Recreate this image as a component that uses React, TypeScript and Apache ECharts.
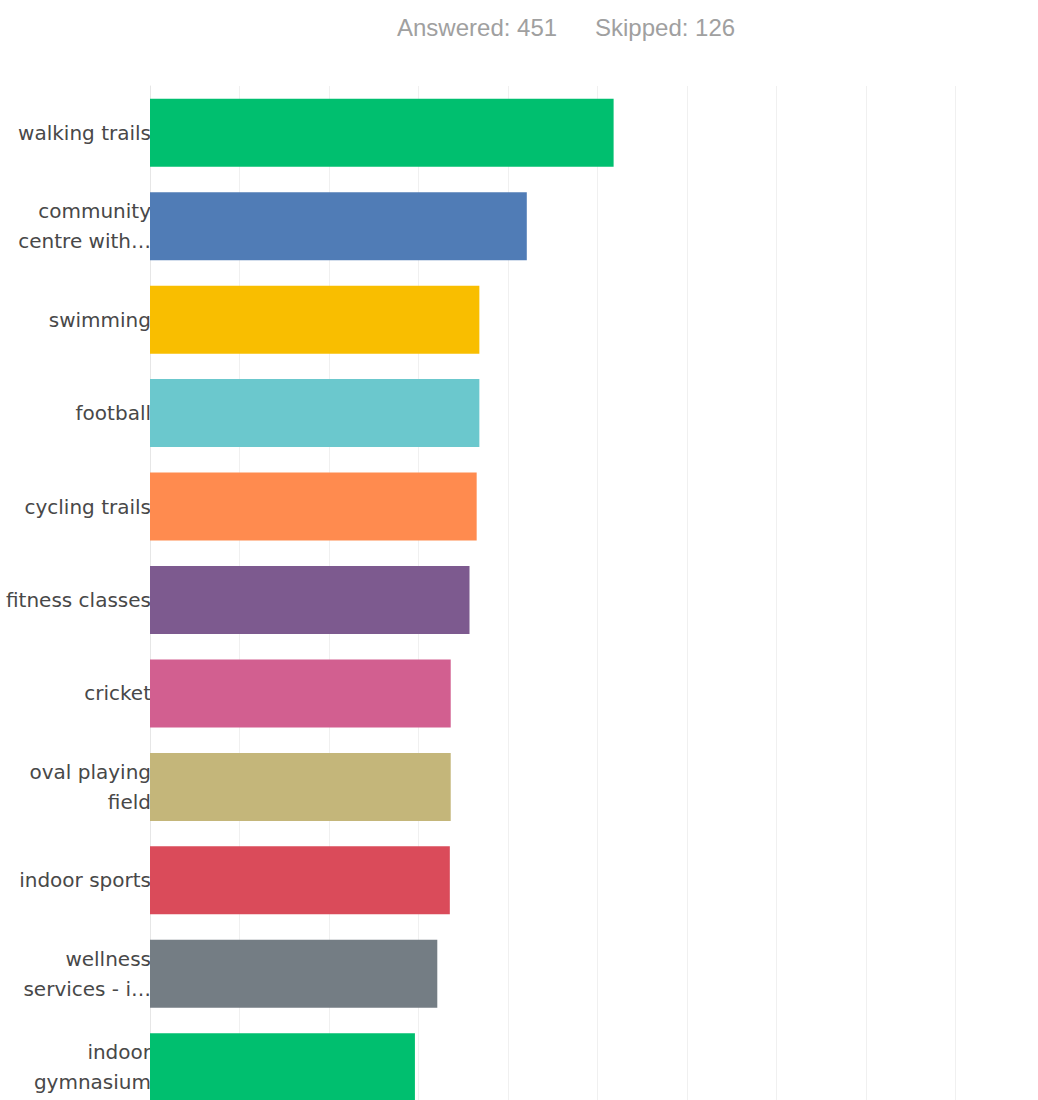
import React, { useEffect, useRef } from "react";
import * as echarts from "echarts";

const categories = [
  "walking trails",
  "community\ncentre with…",
  "swimming",
  "football",
  "cycling trails",
  "fitness classes",
  "cricket",
  "oval playing\nfield",
  "indoor sports",
  "wellness\nservices - i…",
  "indoor\ngymnasium",
];
const values = [51.8, 42.1, 36.8, 36.8, 36.5, 35.7, 33.6, 33.6, 33.5, 32.1, 29.6];
const colors = [
  "#00BF6F", "#507CB6", "#F9BE00", "#6BC8CD", "#FF8B4F", "#7D5A8F",
  "#D25F90", "#C4B67A", "#DA4B5A", "#747D84", "#00BF6F",
];
const answeredText = "Answered: 451";
const skippedText = "Skipped: 126";

export default function App() {
  const ref = useRef<HTMLDivElement>(null);
  useEffect(() => {
    document.body.style.margin = "0";
    const chart = echarts.init(ref.current!, null, { renderer: "svg" });
    chart.setOption({
      animation: false,
      backgroundColor: "#ffffff",
      graphic: [
        {
          type: "text",
          left: 397,
          top: 15,
          style: { text: answeredText, fill: "#a0a0a0", font: "24px 'Liberation Sans', Arial, sans-serif" },
        },
        {
          type: "text",
          left: 595,
          top: 15,
          style: { text: skippedText, fill: "#a0a0a0", font: "24px 'Liberation Sans', Arial, sans-serif" },
        },
      ],
      grid: {
        left: 150,
        top: 86,
        width: 895,
        height: 1028,
        containLabel: false,
        outerBoundsMode: "none",
      },
      xAxis: {
        type: "value",
        min: 0,
        max: 100,
        interval: 10,
        axisLabel: { show: false },
        axisLine: { show: false },
        axisTick: { show: false },
        splitLine: { show: true, lineStyle: { color: "#f0f0f0", width: 1 } },
      },
      yAxis: {
        type: "category",
        inverse: true,
        data: categories,
        axisTick: { show: false },
        axisLine: { show: true, lineStyle: { color: "#e6e6e6", width: 1 } },
        axisLabel: {
          color: "#484848",
          fontSize: 20,
          fontFamily: "'DejaVu Sans', sans-serif",
          lineHeight: 30,
          margin: -1,
          align: "right",
          padding: [4, 0, 0, 0],
        },
      },
      series: [
        {
          type: "bar",
          data: values.map((v, i) => ({ value: v, itemStyle: { color: colors[i] } })),
          barWidth: 68,
        },
      ],
    });
    return () => chart.dispose();
  }, []);
  return <div ref={ref} style={{ width: 1038, height: 1100 }} />;
}
